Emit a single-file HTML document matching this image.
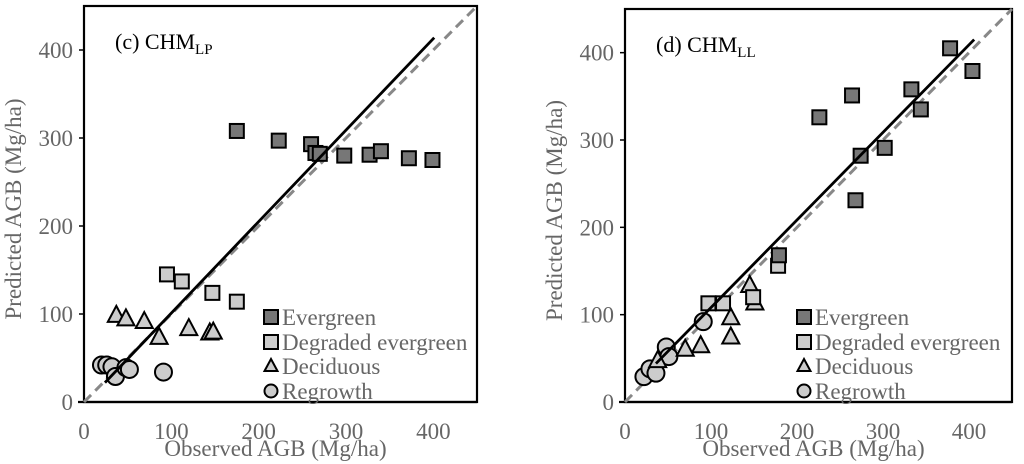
<!DOCTYPE html>
<html><head><meta charset="utf-8"><style>
html,body{margin:0;padding:0;background:#fff;}
svg{display:block;font-family:"Liberation Serif",serif;}
</style></head><body>
<svg id="chart" width="1024" height="464" viewBox="0 0 1024 464" xmlns="http://www.w3.org/2000/svg"></svg>
<script>
// Panel (c) CHM_LP data
const cEvergreenX = [175,223,260,265,270,298,327,340,372,399];
const cEvergreenY = [308,297,293,283,282,280,281,285,277,275];
const cDegradedX = [95,112,147,175];
const cDegradedY = [145,137,124,114];
const cDeciduousX = [37,48,69,86,120,144,148];
const cDeciduousY = [99,95,92,74,84,79,80];
const cRegrowthX = [20,26,32,36,48,52,91];
const cRegrowthY = [42,42,40,29,39,37,34];
const cFitX = [24,401];
const cFitY = [22,414];
// Panel (d) CHM_LL data
const dEvergreenX = [378,404,333,344,264,226,274,302,268,179];
const dEvergreenY = [405,379,358,335,351,326,282,291,231,168];
const dDegradedX = [178,97,114,149];
const dDegradedY = [156,113,113,120];
const dDeciduousX = [145,151,123,123,88,70,38];
const dDeciduousY = [134,114,97,75,65,61,48];
const dRegrowthX = [91,48,51,22,29,36];
const dRegrowthY = [92,63,52,29,38,33];
const dFitX = [36,406];
const dFitY = [44,415];
const ticks = [0,100,200,300,400];
const legendLabels = ["Evergreen","Degraded evergreen","Deciduous","Regrowth"];

const NS="http://www.w3.org/2000/svg";
const svg=document.getElementById('chart');
function mk(tag,attrs,parent){const e=document.createElementNS(NS,tag);for(const k in attrs)e.setAttribute(k,attrs[k]);(parent||svg).appendChild(e);return e;}

function panel(p){
  const g=mk('g',{});
  
  
  const sx=v=>p.x0+(v/450)*(p.x1-p.x0);
  const sy=v=>p.y0-(v/450)*(p.y0-p.y1);
  const frame=mk('rect',{x:p.x0,y:p.y1,width:p.x1-p.x0,height:p.y0-p.y1,fill:'none',stroke:'#000','stroke-width':2.2},g);
  
  
  ticks.forEach(t=>{
    const tl=mk('line',{x1:p.x0-5,x2:p.x0,y1:sy(t),y2:sy(t),stroke:'#000','stroke-width':1.5},g);
    
    
    const yt=mk('text',{x:p.x0-11,y:sy(t)+8,'text-anchor':'end','font-size':23,fill:'#666'},g);
    yt.textContent=t;
    
    
    const xt=mk('text',{x:sx(t),y:p.y0+37,'text-anchor':'middle','font-size':23,fill:'#666'},g);
    xt.textContent=t;
    
    
  });
  const xa=mk('line',{x1:p.x0-6,x2:p.x1,y1:p.y0,y2:p.y0,stroke:'#000','stroke-width':2.2},g);
  
  
  const xtit=mk('text',{x:(p.x0+p.x1)/2-5,y:456,'text-anchor':'middle','font-size':23,fill:'#666'},g);
  xtit.textContent='Observed AGB (Mg/ha)';
  
  
  const ytit=mk('text',{x:0,y:0,'text-anchor':'middle','font-size':23,fill:'#666',transform:`translate(${p.x0-63},${(p.y0+p.y1)/2+5}) rotate(-90)`},g);
  ytit.textContent='Predicted AGB (Mg/ha)';
  
  
  const one=mk('line',{x1:sx(0),y1:sy(0),x2:sx(450),y2:sy(450),stroke:'#888','stroke-width':3,'stroke-dasharray':'10,6'},g);
  
  
  const ttl=mk('text',{x:p.x0+31,y:p.y1+43,'font-size':22,fill:'#000'},g);
  ttl.innerHTML=p.title+'<tspan font-size="15" dy="5">'+p.sub+'</tspan>';
  
  
  const sq=(x,y,fill,parent)=>mk('rect',{x:x-7,y:y-7,width:14,height:14,fill:fill,stroke:'#000','stroke-width':2},parent);
  const tri=(x,y,parent)=>mk('path',{d:`M${x},${y-9} L${x+8.5},${y+7} L${x-8.5},${y+7} Z`,fill:'#ccc',stroke:'#000','stroke-width':2},parent);
  const cir=(x,y,parent)=>mk('circle',{cx:x,cy:y,r:8.5,fill:'#ccc',stroke:'#000','stroke-width':2},parent);
  p.rgX.forEach((v,i)=>{const e=cir(sx(v),sy(p.rgY[i]),g);
    
    });
  p.dcX.forEach((v,i)=>{const e=tri(sx(v),sy(p.dcY[i]),g);
    
    });
  p.dgX.forEach((v,i)=>{const e=sq(sx(v),sy(p.dgY[i]),'#ccc',g);
    
    });
  p.evX.forEach((v,i)=>{const e=sq(sx(v),sy(p.evY[i]),'#777',g);
    
    });
  const fit=mk('line',{x1:sx(p.fX[0]),y1:sy(p.fY[0]),x2:sx(p.fX[1]),y2:sy(p.fY[1]),stroke:'#000','stroke-width':2.8},g);
  
  
  const rows=[317,342,366,391];
  legendLabels.forEach((lab,i)=>{
    const lg=mk('g',{},g);
    
    
    const mx=p.legX, my=rows[i];
    if(i===0) sq(mx,my,'#777',lg); else if(i===1) sq(mx,my,'#ccc',lg);
    else if(i===2) mk('path',{d:`M${mx},${my-7} L${mx+6.5},${my+5} L${mx-6.5},${my+5} Z`,fill:'#ccc',stroke:'#000','stroke-width':2},lg);
    else mk('circle',{cx:mx,cy:my,r:6.5,fill:'#ccc',stroke:'#000','stroke-width':2},lg);
    const t=mk('text',{x:mx+11,y:my+8,'font-size':23,fill:'#666'},lg);
    t.textContent=lab;
  });
}
panel({name:'panel-c',x0:84,x1:477,y0:402,y1:6,title:'(c) CHM',sub:'LP',legX:271,
  evX:cEvergreenX,evY:cEvergreenY,dgX:cDegradedX,dgY:cDegradedY,dcX:cDeciduousX,dcY:cDeciduousY,rgX:cRegrowthX,rgY:cRegrowthY,fX:cFitX,fY:cFitY});
panel({name:'panel-d',x0:625,x1:1012,y0:402,y1:9,title:'(d) CHM',sub:'LL',legX:804,
  evX:dEvergreenX,evY:dEvergreenY,dgX:dDegradedX,dgY:dDegradedY,dcX:dDeciduousX,dcY:dDeciduousY,rgX:dRegrowthX,rgY:dRegrowthY,fX:dFitX,fY:dFitY});
</script>
</body></html>
